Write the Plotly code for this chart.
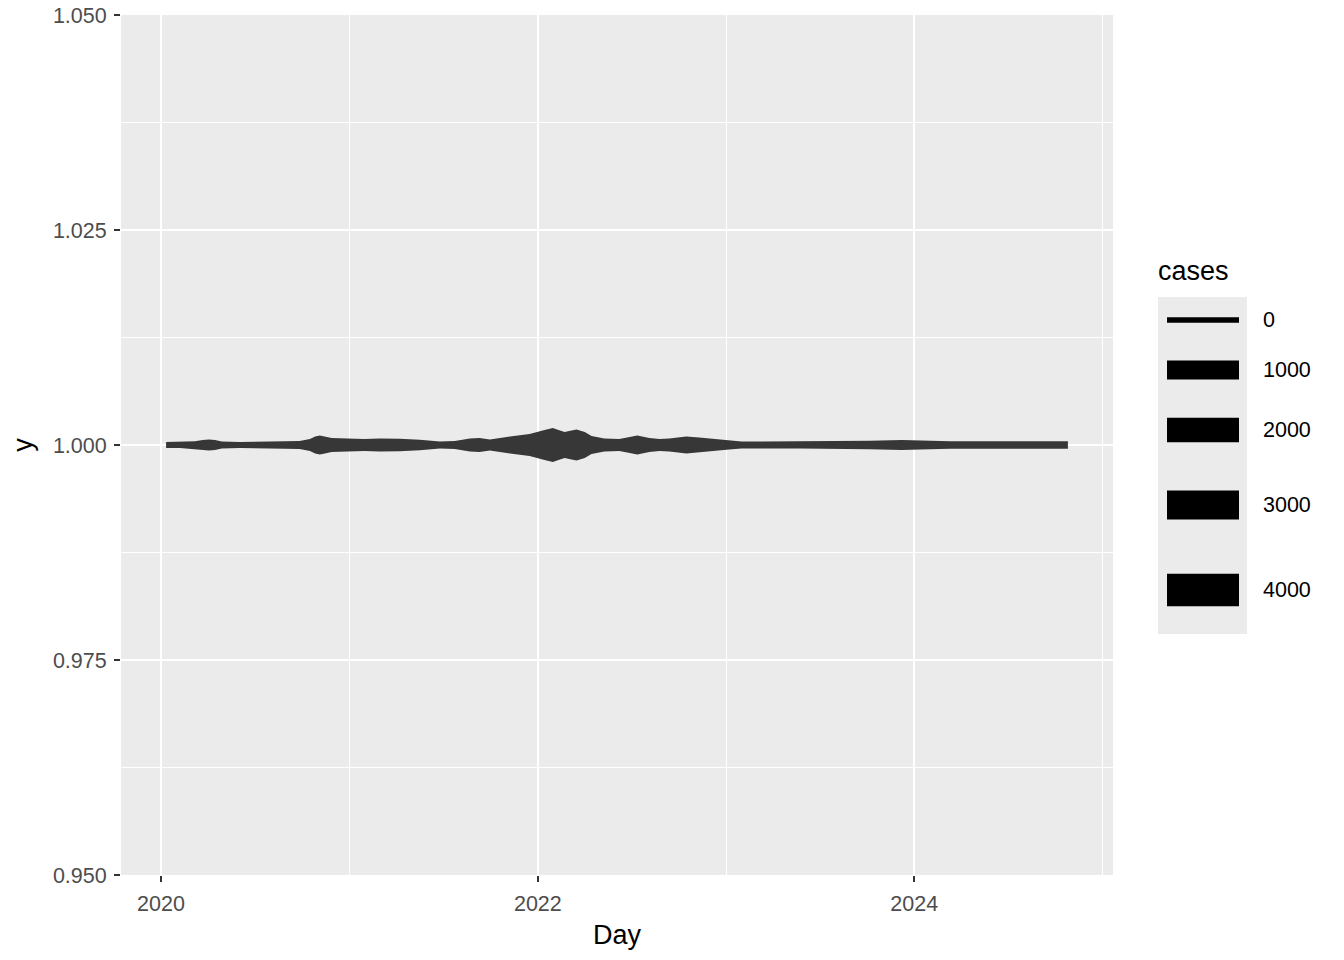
import plotly.graph_objects as go
import numpy as np
import pandas as pd

# Data
dates = ["2020-01-11", "2020-02-07", "2020-03-07", "2020-03-22", "2020-04-03", "2020-04-15",
         "2020-04-28", "2020-06-02", "2020-07-11", "2020-08-19", "2020-09-26", "2020-10-16",
         "2020-10-26", "2020-11-04", "2020-11-14", "2020-11-27", "2020-12-28", "2021-01-30",
         "2021-02-28", "2021-04-08", "2021-05-17", "2021-06-25", "2021-07-24", "2021-08-22",
         "2021-09-10", "2021-09-30", "2021-11-08", "2021-12-16", "2022-01-14", "2022-01-30",
         "2022-02-10", "2022-02-22", "2022-03-05", "2022-03-17", "2022-04-02", "2022-04-15",
         "2022-05-10", "2022-06-08", "2022-06-28", "2022-07-13", "2022-08-05", "2022-08-25",
         "2022-09-13", "2022-10-16", "2022-11-10", "2022-12-09", "2023-01-07", "2023-01-31",
         "2023-03-07", "2023-05-24", "2023-08-10", "2023-10-07", "2023-12-08", "2024-01-12",
         "2024-03-10", "2024-05-07", "2024-07-04", "2024-08-31", "2024-10-25"]
cases = [3, 3, 26, 118, 173, 118,
         15, 3, 8, 15, 39, 240,
         730, 1000, 730, 404, 330, 240,
         316, 280, 144, 15, 39, 316,
         404, 173, 730, 1487, 3255, 4393,
         3255, 2286, 2900, 3523, 2286, 860,
         316, 240, 600, 1000, 404, 240,
         316, 730, 502, 240, 73, 15,
         15, 20, 30, 55, 118, 73,
         25, 25, 25, 25, 25]
y_value = 1.0
legend_values = [0, 1000, 2000, 3000, 4000]
y_ticks = [0.950, 0.975, 1.000, 1.025, 1.050]
x_ticks = ["2020-01-01", "2022-01-01", "2024-01-01"]
x_ticklabels = ["2020", "2022", "2024"]

# Layout geometry (screen pixels)
W, H = 1344, 960
panel_l, panel_r, panel_t, panel_b = 121, 1113, 15, 875
ml, mt = panel_l, panel_t
mr, mb = W - panel_r, H - panel_b
plot_w = panel_r - panel_l
plot_h = panel_b - panel_t
y_range = [0.95, 1.05]


def width_px(c):
    return 5.3 + 0.433 * np.sqrt(np.asarray(c, dtype=float))


d = pd.to_datetime(dates)
span = d.max() - d.min()
x_range = [d.min() - 0.05 * span, d.max() + 0.05 * span]

hw = width_px(cases) / 2 * (y_range[1] - y_range[0]) / plot_h
upper = y_value + hw
lower = y_value - hw

fig = go.Figure()
fig.add_trace(go.Scatter(
    x=list(d) + list(d[::-1]),
    y=list(upper) + list(lower[::-1]),
    fill="toself", fillcolor="#373737", mode="lines",
    line=dict(width=0, color="#373737"), hoverinfo="skip", showlegend=False))


def px_to_paper_x(px):
    return (px - panel_l) / plot_w


def px_to_paper_y(py):
    return (panel_b - py) / plot_h


shapes = [dict(type="rect", xref="paper", yref="paper",
               x0=px_to_paper_x(1158), x1=px_to_paper_x(1247),
               y0=px_to_paper_y(634), y1=px_to_paper_y(297),
               fillcolor="#EBEBEB", line=dict(width=0), layer="below")]
annotations = [dict(text="cases", xref="paper", yref="paper",
                    x=px_to_paper_x(1156), y=px_to_paper_y(271),
                    xanchor="left", yanchor="middle", showarrow=False,
                    font=dict(size=27, color="black"))]
key_y = [320, 370, 430, 505, 590]
for v, ky in zip(legend_values, key_y):
    shapes.append(dict(type="line", xref="paper", yref="paper",
                       x0=px_to_paper_x(1167), x1=px_to_paper_x(1239),
                       y0=px_to_paper_y(ky), y1=px_to_paper_y(ky),
                       line=dict(color="black", width=float(width_px(v)))))
    annotations.append(dict(text=str(v), xref="paper", yref="paper",
                            x=px_to_paper_x(1261), y=px_to_paper_y(ky),
                            xanchor="left", yanchor="middle", showarrow=False,
                            font=dict(size=21.5, color="black")))

fig.update_layout(
    width=W, height=H,
    margin=dict(l=ml, r=mr, t=mt, b=mb, pad=0, autoexpand=False),
    paper_bgcolor="white", plot_bgcolor="#EBEBEB",
    font=dict(family="Liberation Sans, Arial, sans-serif", color="#4D4D4D"),
    showlegend=False,
    shapes=shapes, annotations=annotations,
    xaxis=dict(
        type="date", range=x_range, automargin=False,
        tickvals=x_ticks, ticktext=x_ticklabels,
        ticks="outside", ticklen=6, tickwidth=1.6, tickcolor="#333333",
        ticklabelstandoff=3, ticklabeloverflow="allow",
        tickfont=dict(size=21.5, color="#4D4D4D"),
        showgrid=True, gridcolor="white", gridwidth=2,
        minor=dict(tickvals=["2021-01-01", "2023-01-01", "2025-01-01"],
                   showgrid=True, gridcolor="white", gridwidth=1, ticks=""),
        zeroline=False, showline=False,
        title=dict(text="Day", font=dict(size=27, color="black"), standoff=10),
    ),
    yaxis=dict(
        range=y_range, tickvals=y_ticks, tickformat=".3f", automargin=False,
        ticks="outside", ticklen=6, tickwidth=1.6, tickcolor="#333333",
        ticklabelstandoff=3, ticklabeloverflow="allow",
        tickfont=dict(size=21.5, color="#4D4D4D"),
        showgrid=True, gridcolor="white", gridwidth=2,
        minor=dict(tickvals=[0.9625, 0.9875, 1.0125, 1.0375],
                   showgrid=True, gridcolor="white", gridwidth=1, ticks=""),
        zeroline=False, showline=False,
        title=dict(text="y", font=dict(size=27, color="black"), standoff=12),
    ),
)

fig.write_html("out.html",
               config={"displayModeBar": False, "staticPlot": True},
               post_script="document.body.style.margin='0';document.body.style.overflow='hidden';")
